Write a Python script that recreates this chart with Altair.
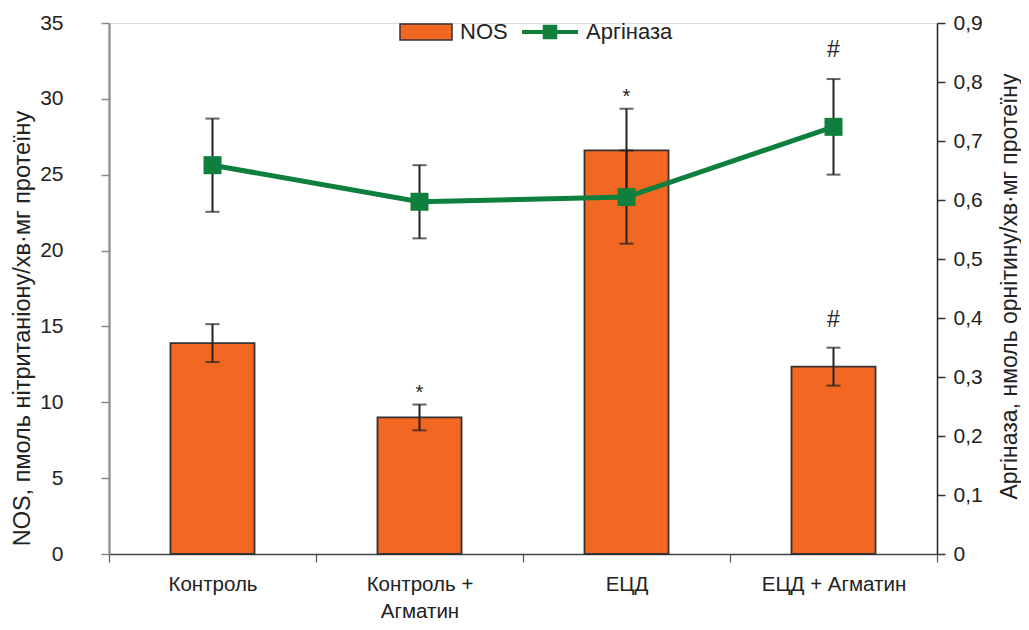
import altair as alt
import pandas as pd

categories = ["Контроль", "Контроль +|Агматин", "ЕЦД", "ЕЦД + Агматин"]
nos = [13.9, 9.0, 26.6, 12.35]
nos_err = [1.25, 0.85, 2.75, 1.25]
arg = [0.659, 0.597, 0.605, 0.724]
arg_err = [0.079, 0.062, 0.079, 0.081]
nos_sig = ["", "*", "*", "#"]
arg_sig = ["", "", "", "#"]

ORANGE = "#f26722"
GREEN = "#0f7f3e"
FONT = "Liberation Sans"

df = pd.DataFrame({
    "cat": categories, "nos": nos, "nos_err": nos_err,
    "arg": arg, "arg_err": arg_err, "nos_sig": nos_sig, "arg_sig": arg_sig,
})

base = alt.Chart(df).transform_calculate(
    nos_lo="datum.nos - datum.nos_err",
    nos_hi="datum.nos + datum.nos_err",
    arg_lo="datum.arg - datum.arg_err",
    arg_hi="datum.arg + datum.arg_err",
    nos_name="'NOS'",
    arg_name="'Аргіназа'",
)

x_enc = alt.X(
    "cat:N", sort=categories, title=None,
    scale=alt.Scale(paddingInner=0, paddingOuter=0),
    axis=alt.Axis(
        labelExpr="split(datum.label, '|')", labelAngle=0,
        labelFontSize=20.5, labelColor="#222", labelPadding=12,
        labelLineHeight=27, labelBaseline="top",
        tickBand="extent", tickSize=8, tickColor="#555", tickWidth=1.2,
        domainColor="#444", domainWidth=1.5,
    ),
)
xs = alt.X("cat:N", sort=categories, title=None)

nos_axis = alt.Axis(
    orient="left", values=list(range(0, 36, 5)), grid=False,
    title="NOS, пмоль нітританіону/хв·мг протеїну",
    titleFontSize=23.5, titleFontWeight="normal", titleColor="#222",
    titleAngle=270, titleX=-87, titleY=305, titleAlign="center",
    titleBaseline="middle",
    labelFontSize=21, labelColor="#222", labelPadding=38,
    tickSize=8, tickColor="#888", tickWidth=1.5,
    domainColor="#8a8a8a", domainWidth=2.2,
)
arg_axis = alt.Axis(
    orient="right", values=[i / 10 for i in range(10)], grid=False,
    labelExpr="datum.value == 0 ? '0' : replace(format(datum.value, '.1f'), '.', ',')",
    title="Аргіназа, нмоль орнітину/хв·мг протеїну",
    titleFontSize=23, titleFontWeight="normal", titleColor="#222",
    titleAngle=270, titleX=72, titleY=263, titleAlign="center",
    titleBaseline="middle",
    labelFontSize=21, labelColor="#222", labelPadding=8,
    tickSize=8, tickColor="#333", tickWidth=1.5,
    domainColor="#222", domainWidth=1.5,
)

nos_scale = alt.Scale(domain=[0, 35], nice=False)
arg_scale = alt.Scale(domain=[0, 0.9], nice=False)


def ny(field):
    return alt.Y(field, scale=nos_scale, axis=nos_axis)


def ay(field):
    return alt.Y(field, scale=arg_scale, axis=arg_axis)


bars = base.mark_bar(width={"band": 0.406}, stroke="#333", strokeWidth=1.8).encode(
    x=x_enc,
    y=ny("nos:Q"),
    fill=alt.Fill("nos_name:N", scale=alt.Scale(domain=["NOS"], range=[ORANGE]),
                  legend=alt.Legend(
                      title=None, orient="none", legendX=306, legendY=-2,
                      symbolType="M-3.25,-1 L3.25,-1 L3.25,1 L-3.25,1 Z",
                      symbolSize=256, symbolStrokeColor="#333", symbolStrokeWidth=1.5,
                      labelOffset=23, labelFontSize=22, labelColor="#222", padding=0,
                  )),
)

nos_rule = base.mark_rule(color="#222", strokeWidth=2).encode(
    x=xs, y=ny("nos_lo:Q"), y2="nos_hi:Q")
nos_cap_hi = base.mark_tick(color="#222", thickness=2, size=14).encode(
    x=xs, y=ny("nos_hi:Q"))
nos_cap_lo = base.mark_tick(color="#222", thickness=2, size=14).encode(
    x=xs, y=ny("nos_lo:Q"))

nos_star = base.transform_filter("datum.nos_sig == '*'").mark_text(
    font=FONT, fontSize=20, color="#222", baseline="alphabetic", dy=-6).encode(
    x=xs, y=ny("nos_hi:Q"), text="nos_sig:N")
nos_hash = base.transform_filter("datum.nos_sig == '#'").mark_text(
    font=FONT, fontSize=23, color="#222", baseline="alphabetic", dy=-21).encode(
    x=xs, y=ny("nos_hi:Q"), text="nos_sig:N")

left = alt.layer(bars, nos_rule, nos_cap_hi, nos_cap_lo, nos_star, nos_hash)

arg_rule = base.mark_rule(color="#222", strokeWidth=2).encode(
    x=xs, y=ay("arg_lo:Q"), y2="arg_hi:Q")
arg_cap_hi = base.mark_tick(color="#222", thickness=2, size=14).encode(
    x=xs, y=ay("arg_hi:Q"))
arg_cap_lo = base.mark_tick(color="#222", thickness=2, size=14).encode(
    x=xs, y=ay("arg_lo:Q"))

line = base.mark_line(color=GREEN, strokeWidth=5).encode(x=xs, y=ay("arg:Q"))

points = base.mark_point(shape="square", filled=True, size=324, opacity=1).encode(
    x=xs,
    y=ay("arg:Q"),
    fill=alt.Fill("arg_name:N", scale=alt.Scale(domain=["Аргіназа"], range=[GREEN]),
                  legend=alt.Legend(
                      title=None, orient="none", legendX=430, legendY=-2,
                      symbolType="M-4,0 L4,0 M-0.75,-0.75 L0.75,-0.75 L0.75,0.75 L-0.75,0.75 Z",
                      symbolSize=196, labelOffset=25, labelFontSize=22,
                      symbolStrokeColor=GREEN, symbolStrokeWidth=4,
                      symbolFillColor=GREEN, symbolOpacity=1,
                      labelColor="#222", padding=0,
                  )),
)

arg_hash = base.transform_filter("datum.arg_sig == '#'").mark_text(
    font=FONT, fontSize=23, color="#222", baseline="alphabetic", dy=-22).encode(
    x=xs, y=ay("arg_hi:Q"), text="arg_sig:N")

right = alt.layer(arg_rule, arg_cap_hi, arg_cap_lo, line, points, arg_hash)

chart = alt.layer(left, right).resolve_scale(y="independent", fill="independent").properties(
    width=828, height=531,
    autosize=alt.AutoSizeParams(type="none"),
    padding={"left": 101, "top": 15, "right": 84, "bottom": 68},
).configure_view(stroke=None).configure_axis(
    labelFont=FONT, titleFont=FONT,
).configure_legend(labelFont=FONT).configure(background="white")

chart.save("out.html", embed_options={"renderer": "svg", "actions": False})
